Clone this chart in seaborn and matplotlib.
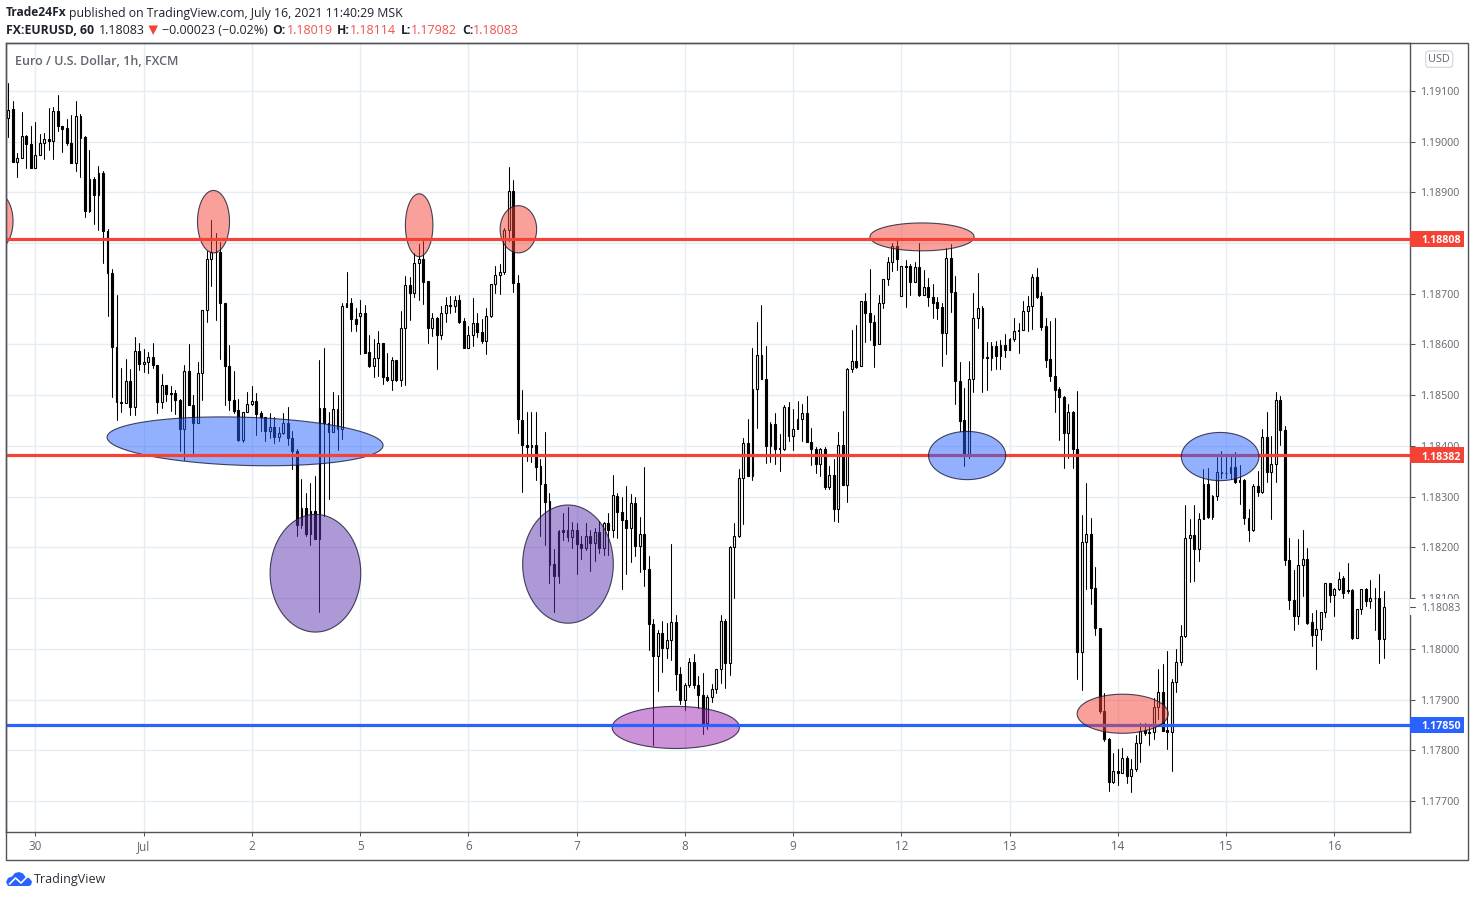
import numpy as np
import pandas as pd
import seaborn as sns
import matplotlib
matplotlib.use("Agg")
import matplotlib.pyplot as plt
from matplotlib.patches import Polygon, Rectangle, FancyBboxPatch
from matplotlib.lines import Line2D
from matplotlib.transforms import Affine2D, blended_transform_factory, ScaledTranslation

# Hourly prices, stored as 1/100000 above 1.10000
opens = [9047,9064,8960,8968,9011,8996,8948,8974,8998,9004,
9002,9061,9030,9026,8998,8958,9051,9008,8863,8927,
8895,8937,8824,8741,8595,8487,8484,8528,8477,8587,
8561,8566,8576,8560,8487,8520,8505,8505,8491,8433,
8548,8481,8445,8544,8668,8768,8783,8783,8682,8558,
8490,8470,8412,8466,8483,8489,8464,8457,8429,8438,
8417,8425,8445,8416,8390,8244,8278,8226,8272,8217,
8475,8445,8427,8473,8434,8674,8681,8650,8657,8661,
8585,8557,8573,8603,8536,8529,8569,8529,8632,8717,
8701,8760,8768,8725,8632,8652,8618,8661,8678,8675,
8687,8646,8592,8618,8642,8624,8606,8656,8719,8736,
8742,8826,8903,8721,8452,8401,8398,8401,8361,8324,
8292,8167,8144,8235,8235,8220,8235,8206,8198,8222,
8208,8230,8198,8248,8235,8302,8269,8254,8239,8287,
8202,8226,8157,8049,7985,8031,8001,8017,8053,7951,
7899,7928,7974,7929,7909,7853,7905,7921,7960,8055,
7972,8200,8222,8336,8405,8340,8513,8580,8532,8399,
8443,8395,8394,8477,8419,8433,8453,8465,8408,8394,
8364,8394,8319,8343,8276,8402,8323,8551,8567,8557,
8685,8661,8644,8600,8681,8729,8763,8795,8696,8755,
8754,8723,8752,8697,8714,8693,8683,8673,8623,8771,
8704,8528,8451,8380,8532,8653,8671,8576,8574,8596,
8578,8598,8590,8610,8628,8628,8665,8675,8732,8695,
8636,8571,8538,8512,8496,8425,8467,8394,7994,8211,
8227,8120,8042,7877,7822,7738,7760,7756,7784,7749,
7764,7814,7840,7837,7836,7886,7915,7839,7836,7935,
7974,8025,8219,8225,8197,8256,8325,8260,8302,8348,
8347,8346,8359,8329,8333,8258,8234,8321,8309,8418,
8349,8364,8490,8431,8176,8097,8065,8166,8178,8053,
8027,8040,8073,8129,8107,8118,8139,8115,8115,8021,
8078,8118,8094,8101,8101,8019]
closes = [9062,8960,8968,9010,8996,8948,8974,8998,9004,9002,
9061,9030,9025,8997,8958,9051,9007,8863,8927,8895,
8937,8824,8741,8595,8487,8485,8528,8477,8587,8561,
8566,8576,8559,8487,8520,8503,8503,8490,8433,8548,
8481,8445,8544,8668,8768,8783,8782,8682,8557,8490,
8469,8412,8466,8483,8489,8462,8457,8429,8438,8417,
8426,8445,8415,8389,8244,8278,8226,8272,8217,8475,
8445,8427,8473,8434,8676,8681,8650,8640,8661,8584,
8557,8573,8603,8536,8529,8569,8529,8632,8717,8701,
8760,8768,8724,8632,8652,8618,8661,8678,8676,8687,
8645,8592,8619,8642,8624,8606,8656,8719,8736,8742,
8826,8903,8721,8453,8401,8398,8401,8359,8324,8290,
8166,8144,8233,8231,8220,8234,8206,8198,8222,8208,
8230,8198,8248,8235,8303,8269,8254,8239,8287,8202,
8226,8157,8049,7985,8031,8001,8017,8053,7950,7899,
7929,7974,7928,7909,7853,7905,7921,7960,8055,7972,
8200,8222,8336,8405,8340,8513,8580,8531,8399,8443,
8394,8393,8477,8419,8433,8453,8465,8408,8394,8364,
8394,8319,8343,8276,8402,8323,8552,8567,8556,8685,
8661,8644,8599,8681,8729,8763,8795,8769,8755,8753,
8723,8752,8697,8714,8693,8682,8672,8623,8771,8704,
8527,8450,8385,8532,8653,8671,8574,8574,8596,8578,
8598,8590,8610,8626,8626,8665,8675,8732,8693,8635,
8570,8537,8511,8496,8425,8467,8394,7994,8211,8227,
8119,8041,7877,7822,7738,7760,7756,7784,7749,7764,
7814,7838,7835,7835,7886,7915,7838,7837,7935,7974,
8025,8219,8224,8197,8256,8325,8260,8302,8348,8346,
8346,8359,8328,8333,8258,8234,8321,8309,8418,8349,
8364,8490,8431,8175,8096,8065,8166,8178,8051,8027,
8040,8073,8129,8107,8118,8138,8111,8113,8021,8078,
8118,8094,8100,8100,8019,8083]
highs = [9116,9080,8978,9059,9012,9030,9039,9014,9016,9067,
9069,9091,9031,9045,9053,9080,9055,9011,8983,8931,
8951,8941,8827,8748,8698,8553,8572,8551,8615,8603,
8591,8586,8603,8560,8542,8520,8518,8510,8493,8560,
8601,8501,8566,8668,8784,8845,8820,8801,8682,8598,
8548,8493,8466,8506,8518,8505,8468,8457,8465,8457,
8438,8464,8477,8429,8393,8335,8308,8327,8340,8570,
8593,8467,8506,8500,8682,8743,8691,8672,8688,8678,
8619,8611,8626,8603,8583,8575,8570,8666,8734,8733,
8780,8798,8804,8725,8662,8654,8675,8693,8696,8696,
8698,8652,8636,8691,8661,8651,8672,8719,8754,8759,
8829,8949,8924,8736,8510,8466,8466,8466,8374,8427,
8307,8197,8235,8267,8279,8250,8248,8223,8248,8235,
8238,8251,8249,8267,8343,8307,8299,8321,8305,8300,
8260,8358,8182,8059,8038,8054,8051,8206,8067,7964,
7933,7982,7990,7946,7953,7908,7930,7960,8067,8059,
8202,8248,8354,8415,8454,8592,8645,8677,8597,8448,
8464,8424,8481,8487,8473,8489,8483,8499,8435,8398,
8396,8398,8361,8375,8428,8468,8553,8629,8638,8685,
8702,8748,8659,8697,8729,8773,8799,8810,8755,8767,
8758,8763,8799,8746,8730,8720,8694,8681,8791,8797,
8735,8565,8514,8568,8702,8740,8676,8605,8605,8606,
8609,8620,8612,8653,8642,8685,8695,8738,8750,8704,
8653,8647,8653,8516,8498,8483,8469,8509,8263,8327,
8258,8162,8042,7912,7825,7794,7802,7805,7789,7782,
7830,7854,7854,7851,7904,7961,7971,7995,7940,7999,
8046,8283,8255,8283,8268,8355,8357,8304,8378,8390,
8378,8381,8388,8363,8334,8276,8324,8350,8434,8467,
8419,8507,8499,8439,8219,8155,8216,8235,8199,8071,
8076,8073,8130,8130,8120,8152,8143,8170,8117,8079,
8118,8120,8135,8120,8147,8114]
lows = [9008,8960,8931,8968,8948,8948,8948,8974,8965,8984,
8965,9021,8980,8993,8958,8942,8930,8851,8861,8837,
8826,8760,8656,8496,8451,8466,8484,8460,8460,8549,
8545,8544,8554,8464,8474,8488,8468,8462,8389,8373,
8481,8383,8445,8491,8644,8716,8648,8572,8481,8470,
8465,8409,8407,8466,8481,8422,8429,8409,8416,8406,
8409,8424,8401,8354,8222,8239,8222,8205,8217,8073,
8262,8295,8427,8392,8413,8674,8627,8627,8582,8584,
8555,8535,8537,8522,8527,8511,8527,8518,8521,8649,
8693,8688,8680,8602,8616,8552,8611,8644,8661,8663,
8642,8592,8592,8596,8615,8602,8582,8655,8701,8700,
8739,8803,8703,8426,8310,8371,8369,8333,8223,8205,
8130,8072,8130,8214,8212,8199,8148,8177,8194,8153,
8174,8189,8185,8185,8220,8218,8117,8148,8172,8183,
8151,8124,7998,7811,7916,7954,7982,7977,7918,7892,
7879,7925,7923,7884,7833,7841,7895,7913,7933,7923,
7949,8100,8221,8246,8340,8332,8436,8531,8367,8368,
8365,8350,8392,8409,8392,8433,8409,8408,8362,8347,
8341,8316,8316,8252,8250,8323,8289,8545,8553,8557,
8604,8609,8555,8600,8672,8718,8745,8746,8696,8674,
8698,8723,8695,8697,8676,8653,8651,8558,8581,8663,
8483,8429,8361,8376,8507,8632,8507,8511,8550,8552,
8552,8576,8589,8607,8583,8628,8627,8631,8692,8629,
8555,8527,8466,8411,8356,8376,8356,7940,7919,8118,
8088,8028,7874,7818,7720,7736,7732,7755,7736,7718,
7759,7777,7830,7810,7822,7861,7838,7802,7759,7915,
7969,8024,8132,8134,8173,8255,8258,8255,8294,8337,
8337,8334,8326,8285,8247,8212,8232,8301,8308,8329,
8255,8329,8401,8166,8078,8037,8048,8104,8048,8005,
7961,8017,8063,8092,8065,8115,8101,8111,8019,8021,
8068,8084,8081,8038,7972,7982]

day_bars = [6,30,54,78,102,126,150,174,198,222,246,270,294]
day_labels = ["30","Jul","2","5","6","7","8","9","12","13","14","15","16"]
price_ticks = [1.177,1.178,1.179,1.180,1.181,1.182,1.183,1.184,1.185,1.186,1.187,1.188,1.189,1.190,1.191]
# the 1.18800 label sits fully behind the 1.18808 tag in the chart, so it has no visible text
price_tick_labels = ["1.17700","1.17800","1.17900","1.18000","1.18100","1.18200","1.18300","1.18400",
                     "1.18500","1.18600","1.18700","","1.18900","1.19000","1.19100"]

level_prices = [1.18808, 1.18382, 1.17850]
level_names = ["1.18808", "1.18382", "1.17850"]
level_colors = ["#f44336", "#f44336", "#2962ff"]
last_price = 1.18083

# Hand-drawn ellipses: centre bar, centre price, width in bars, height in price, skew, colour, on top of levels
shape_bar = [-2.5,45.5,91.1,113.1,52.5,68.1,124.1,148.0,202.6,212.6,247.1,268.7]
shape_price = [1.18843,1.18842,1.18835,1.18827,1.18409,1.18149,1.18167,1.17845,1.18812,1.18381,1.17872,1.18379]
shape_w = [7.1,7.1,6.1,8.1,61.2,20.1,20.1,28.2,23.1,17.1,20.2,17.2]
shape_h = [.0011,.00123,.00124,.00093,.00095,.00232,.00233,.00083,.00055,.00095,.00077,.00095]
shape_skew = [0,0,0,0,-.00008,0,0,0,0,0,0,0]
shape_color = ["#f44336","#f44336","#f44336","#f44336","#2962ff","#5e35b1","#5e35b1","#9c27b0","#f44336","#2962ff","#f44336","#2962ff"]
shape_top = [0,0,0,0,0,0,0,0,0,1,1,1]

W, H = 1475, 897
GRID, AXC, TXT, DARK = "#e3edf3", "#50535a", "#62656e", "#1e222d"
FONT = "Open Sans"
sns.set_theme(style="white", rc={"font.family": FONT})

fig = plt.figure(figsize=(W/100, H/100), dpi=100, facecolor="white")
L, R, T, B = 6.0, 1410.0, 43.0, 832.0
ax = fig.add_axes([L/W, 1-B/H, (R-L)/W, (B-T)/H], facecolor="white")
pxt = Affine2D().scale(1/W, -1/H).translate(0, 1) + fig.transFigure

df = pd.DataFrame({"bar": np.arange(len(opens)),
                   "open": 1.1+np.array(opens)/1e5, "high": 1.1+np.array(highs)/1e5,
                   "low": 1.1+np.array(lows)/1e5, "close": 1.1+np.array(closes)/1e5})
wicks = df.melt(id_vars="bar", value_vars=["low", "high"], value_name="price")
sns.lineplot(data=wicks, x="bar", y="price", units="bar", estimator=None, sort=False,
             color="black", linewidth=0.75, legend=False, ax=ax, zorder=2)
up = df["close"] >= df["open"]
bottoms = df[["open", "close"]].min(axis=1)
heights = (df["close"]-df["open"]).abs()
ax.bar(df["bar"], heights, bottom=bottoms, width=0.42,
       color=np.where(up, "white", "black"), edgecolor="black", linewidth=0.8, zorder=2.5)

for b, p, w, h, sk, col, top in zip(shape_bar, shape_price, shape_w, shape_h, shape_skew, shape_color, shape_top):
    t = np.linspace(0, 2*np.pi, 181)
    ax.fill(b+w/2*np.cos(t), p+h/2*np.sin(t)+sk*np.cos(t),
            facecolor=matplotlib.colors.to_rgba(col, 0.5), edgecolor=(0.1, 0.1, 0.2, 0.8),
            linewidth=0.8, zorder=5 if top else 3)

for p, c in zip(level_prices, level_colors):
    lv = pd.DataFrame({"bar": [-5, 320], "price": [p, p]})
    sns.lineplot(data=lv, x="bar", y="price", color=c, linewidth=2.3, legend=False, ax=ax, zorder=4)

YMIN, YMAX = 1.176389, 1.191942
ax.set_xlim((L-8.3)/4.51, (R-8.3)/4.51)
ax.set_ylim(YMIN, YMAX)
ax.set_xlabel(""); ax.set_ylabel("")
ax.set_xticks(day_bars, day_labels)
ax.yaxis.tick_right()
ax.set_yticks(price_ticks, price_tick_labels)
ax.grid(True, color=GRID, linewidth=1.0, zorder=0)
ax.set_axisbelow(True)
ax.tick_params(axis="x", length=3, width=0.75, color=AXC, labelcolor=TXT, labelsize=8.4, pad=2.6, bottom=True)
ax.tick_params(axis="y", length=3.5, width=0.75, color=AXC, labelcolor=TXT, labelsize=7.7, pad=3.6, right=True)
for s in ax.spines.values():
    s.set_color(AXC); s.set_linewidth(1.0)

# outer frame
fig.add_artist(Rectangle((L, T), 1468.0-L, 860-T, transform=pxt, fill=False, ec=AXC, lw=1.0))

# price tags on the scale
yt = blended_transform_factory(ax.transAxes, ax.transData)
txt_t = yt + ScaledTranslation(0, -2/100, fig.dpi_scale_trans)
tag_w = 54/(R-L)
tag_h = 16/((B-T)/(YMAX-YMIN))
for p, n, c in zip(level_prices, level_names, level_colors):
    ax.add_patch(Rectangle((1.0, p-tag_h/2), tag_w, tag_h, transform=yt, clip_on=False, fc=c, ec="none", zorder=10))
    ax.text(1+11/(R-L), p, n, transform=txt_t, color="white", fontsize=7.7, fontweight="bold", va="center", ha="left", zorder=11, clip_on=False)
ax.add_patch(Rectangle((1.0, last_price-tag_h/2), tag_w, tag_h, transform=yt, clip_on=False, fc="white", ec="none", zorder=10))
ax.text(1+11/(R-L), last_price, f"{last_price:.5f}", transform=txt_t, color=TXT, fontsize=7.7, va="center", ha="left", zorder=11, clip_on=False)
ax.plot([1.0, 1+4.5/(R-L)], [last_price, last_price], transform=yt, color=AXC, lw=0.75, clip_on=False, zorder=11)

def label(x, y, s, size=8.75, color=DARK, weight="normal", ha="left"):
    fig.text(x/W, 1-y/H, s, fontsize=size, color=color, fontweight=weight, ha=ha, va="center", family=FONT)

# header
label(6, 13, "Trade24Fx", weight="bold", size=8.65)
label(69, 13, "published on TradingView.com, July 16, 2021 11:40:29 MSK", size=8.85)
label(6, 30, "FX:EURUSD, 60", weight="bold", size=8.8)
label(99, 30, "1.18083", size=9)
fig.add_artist(Polygon([(148.5, 25.5), (158, 25.5), (153.2, 35)], closed=True, transform=pxt, fc="#f44336", ec="none"))
label(162, 30, "\u22120.00023 (\u22120.02%)", size=9)
red = "#ef5350"
for xk, k, xv, v in [(272, "O:", 287, "1.18019"), (337, "H:", 350, "1.18114"), (401, "L:", 411, "1.17982"), (462, "C:", 473, "1.18083")]:
    label(xk, 30, k, weight="bold")
    label(xv, 30, v, color=red, size=9)

label(15, 61.5, "Euro / U.S. Dollar, 1h, FXCM", size=9, color=TXT, weight="semibold")

# currency button
fig.add_artist(FancyBboxPatch((1425.7, 51), 27, 16.3, boxstyle="round,pad=0,rounding_size=3", transform=pxt, fc="white", ec="#d5d8e2", lw=0.9))
label(1439.2, 59.3, "USD", size=7.8, color=TXT, ha="center")

# footer logo
cloud = [(6,882),(8,878),(12,876.5),(15,873),(19,872),(23,873.5),(25.5,877),(29,878),(32,881.5),(31,885),(29,886),(8,886)]
fig.add_artist(Polygon(cloud, closed=True, transform=pxt, fc="#2962ff", ec="none"))
fig.add_artist(Line2D([9.5, 15.5, 21, 27], [884, 878, 883, 877], transform=pxt, color="white", lw=1.2))
label(34, 879, "TradingView", size=9, color="#2a2e39")

fig.savefig("out.png", dpi=100, facecolor="white")
